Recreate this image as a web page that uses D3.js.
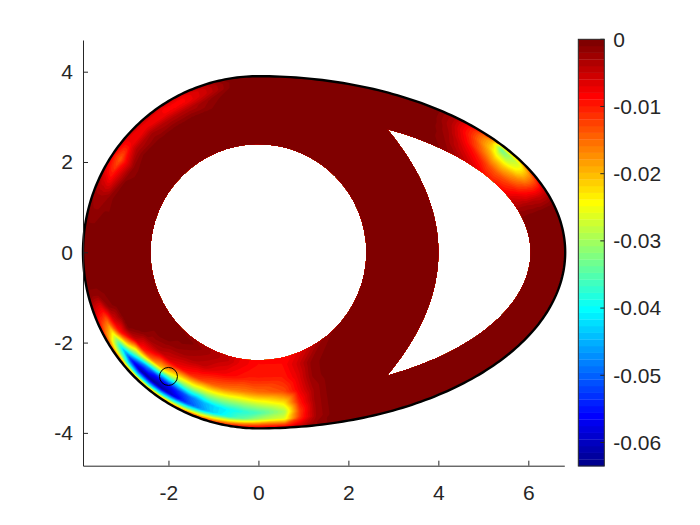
<!DOCTYPE html>
<html>
<head>
<meta charset="utf-8">
<script src="https://cdn.jsdelivr.net/npm/d3@7"></script>
<style>
    body { margin: 0; background: #fff; }
    text { font-family: "Liberation Sans", Arial, Helvetica, sans-serif; fill: #262626; }
</style>
</head>
<body>
<div id="chart"></div>
<script>
/* * * * * * * * * * * * * * * * * * * * * *
*        field on the egg domain           *
* * * * * * * * * * * * * * * * * * * * * */

// tick labels
const xTicks = [-2, 0, 2, 4, 6];
const yTicks = [-4, -2, 0, 2, 4];
const cbTicks = [0, -0.01, -0.02, -0.03, -0.04, -0.05, -0.06];
const cLimits = [-0.0635, 0];

// field: angle round the outer wall (deg) x depth in from the wall
const depths = [0, 0.08, 0.2, 0.35, 0.55, 0.8, 1.1, 1.4];
const sampleAngles = [
    15, 20, 24, 28, 31, 34, 37, 40, 45, 50, 55,
    100, 108, 116, 124, 132, 140, 146, 152, 160, 170, 180,
    190, 195, 200, 205, 210, 215, 220, 225, 230, 235, 240, 245, 250, 255, 260, 265, 270,
    275, 278, 281, 285
];
const sampleValues = [
    // upper right, next to the slot
    [0, 0, 0, 0, 0, 0, 0, 0],
    [-0.004, -0.005, -0.005, -0.004, -0.003, -0.002, 0, 0],
    [-0.008, -0.012, -0.012, -0.010, -0.007, -0.004, 0, 0],
    [-0.014, -0.020, -0.020, -0.016, -0.011, -0.007, 0, 0],
    [-0.018, -0.027, -0.025, -0.019, -0.013, -0.008, 0, 0],
    [-0.020, -0.030, -0.028, -0.021, -0.014, -0.009, 0, 0],
    [-0.020, -0.034, -0.027, -0.020, -0.013, -0.008, 0, 0],
    [-0.014, -0.020, -0.020, -0.016, -0.010, -0.006, 0, 0],
    [-0.008, -0.011, -0.011, -0.009, -0.006, -0.003, 0, 0],
    [-0.003, -0.004, -0.004, -0.003, -0.002, -0.001, 0, 0],
    [0, 0, 0, 0, 0, 0, 0, 0],
    // upper left, thin streak along the wall
    [0, -0.001, -0.001, 0, 0, 0, 0, 0],
    [-0.003, -0.005, -0.005, -0.002, -0.001, 0, 0, 0],
    [-0.005, -0.008, -0.008, -0.004, -0.001, 0, 0, 0],
    [-0.005, -0.008, -0.008, -0.004, -0.001, 0, 0, 0],
    [-0.004, -0.007, -0.007, -0.003, -0.001, 0, 0, 0],
    [-0.005, -0.008, -0.008, -0.004, -0.001, 0, 0, 0],
    [-0.007, -0.011, -0.014, -0.008, -0.002, 0, 0, 0],
    [-0.005, -0.008, -0.010, -0.006, -0.001, 0, 0, 0],
    [-0.002, -0.003, -0.003, -0.002, 0, 0, 0, 0],
    [0, -0.001, -0.001, 0, 0, 0, 0, 0],
    [0, 0, 0, 0, 0, 0, 0, 0],
    // lower left, the deep one
    [0, 0, 0, 0, 0, 0, 0, 0],
    [-0.001, -0.002, -0.002, -0.001, 0, 0, 0, 0],
    [-0.004, -0.007, -0.008, -0.002, 0, 0, 0, 0],
    [-0.007, -0.013, -0.016, -0.006, -0.001, 0, 0, 0],
    [-0.010, -0.020, -0.027, -0.010, -0.001, 0, 0, 0],
    [-0.012, -0.028, -0.042, -0.022, -0.005, -0.001, 0, 0],
    [-0.013, -0.036, -0.055, -0.036, -0.010, -0.003, 0, 0],
    [-0.014, -0.040, -0.062, -0.048, -0.015, -0.004, -0.001, 0],
    [-0.014, -0.040, -0.063, -0.054, -0.021, -0.006, -0.002, 0],
    [-0.013, -0.038, -0.062, -0.055, -0.027, -0.008, -0.003, -0.001],
    [-0.012, -0.034, -0.058, -0.053, -0.030, -0.010, -0.004, -0.002],
    [-0.011, -0.030, -0.052, -0.049, -0.030, -0.012, -0.005, -0.003],
    [-0.010, -0.026, -0.047, -0.045, -0.030, -0.014, -0.007, -0.004],
    [-0.009, -0.022, -0.042, -0.042, -0.030, -0.015, -0.008, -0.005],
    [-0.008, -0.019, -0.038, -0.040, -0.030, -0.016, -0.009, -0.007],
    [-0.007, -0.016, -0.034, -0.038, -0.029, -0.016, -0.010, -0.008],
    [-0.006, -0.014, -0.030, -0.036, -0.027, -0.015, -0.010, -0.009],
    // bottom, fading out to the right
    [-0.006, -0.013, -0.026, -0.030, -0.023, -0.013, -0.010, -0.009],
    [-0.004, -0.007, -0.011, -0.012, -0.010, -0.008, -0.007, -0.006],
    [-0.002, -0.002, -0.003, -0.003, -0.003, -0.003, -0.002, -0.002],
    [0, 0, 0, 0, 0, 0, 0, 0]
];

// extra zero points in the wide part between the hole and the slot
const zeroPoints = [[2.6, 0], [3.0, 1.3], [3.0, -1.3], [2.5, 2.3], [2.5, -2.3]];

// the little circle marker
const probe = [-2.0, -2.75];

class FieldChart {

    constructor(parentElement) {
        this.parentElement = parentElement;

        // geometry of the domain
        this.wallR = 3.9;      // left half is a circle
        this.wallA = 6.82;     // right half is half an ellipse
        this.holeR = 2.4;
        this.slotA = 6.05;
        this.slotB = 3.1;
        this.slotC = 4.0;      // inner edge of the slot: x = c - k*y^2
        this.slotK = 0.153;

        this.initVis();
    }

    initVis() {
        let vis = this;

        vis.width = 700;
        vis.height = 525;

        vis.svg = d3.select("#" + vis.parentElement).append("svg")
            .attr("width", vis.width)
            .attr("height", vis.height);

        // axis equal, limits
        vis.x = d3.scaleLinear().domain([-3.9, 6.8]).range([83, 564.3]);
        vis.y = d3.scaleLinear().domain([-4.727, 4.702]).range([465.7, 40]);
        vis.c = d3.scaleLinear().domain(cLimits).range([466, 39.3]);

        vis.colors = vis.jet64();

        vis.wrangleData();
    }

    // matlab jet(64)
    jet64() {
        let n = 64, m = 16;
        let u = d3.range(1, 17).map(i => i / 16)
            .concat(d3.range(15).map(() => 1))
            .concat(d3.range(16, 0, -1).map(i => i / 16));
        let r = new Array(n).fill(0), g = new Array(n).fill(0), b = new Array(n).fill(0);
        u.forEach((val, j) => {
            let gi = 8 + j + 1;
            let ri = gi + m, bi = gi - m;
            if (ri >= 1 && ri <= n) r[ri - 1] = val;
            if (gi >= 1 && gi <= n) g[gi - 1] = val;
            if (bi >= 1 && bi <= n) b[bi - 1] = val;
        });
        return d3.range(n).map(i => d3.rgb(r[i] * 255, g[i] * 255, b[i] * 255).formatHex());
    }

    // point on the outer wall at angle tDeg, moved d inwards along the normal
    wallPoint(tDeg, d) {
        let vis = this;
        let t = tDeg * Math.PI / 180, co = Math.cos(t), si = Math.sin(t);
        let a = co >= 0 ? vis.wallA : vis.wallR;
        let nx = vis.wallR * co, ny = a * si;
        let len = Math.hypot(nx, ny);
        return [a * co - d * nx / len, vis.wallR * si - d * ny / len];
    }

    slotOuterX(y) {
        let vis = this;
        return vis.slotA * Math.sqrt(Math.max(0, 1 - (y / vis.slotB) ** 2));
    }

    slotInnerX(y) {
        return this.slotC - this.slotK * y * y;
    }

    wrangleData() {
        let vis = this;

        // sample points with values
        vis.points = [];
        sampleAngles.forEach((t, i) => {
            depths.forEach((d, j) => {
                let p = vis.wallPoint(t, d);
                vis.points.push([p[0], p[1], sampleValues[i][j]]);
            });
        });
        // zero rows all the way round where nothing was read
        d3.range(0, 360, 10).forEach(t => {
            let near = sampleAngles.some(s => Math.abs(s - t) < 6);
            if (near) return;
            depths.forEach(d => {
                let p = vis.wallPoint(t, d);
                vis.points.push([p[0], p[1], 0]);
            });
        });
        zeroPoints.forEach(p => vis.points.push([p[0], p[1], 0]));

        // linear interpolation on a triangulation, like the fem mesh
        vis.h = 0.04;
        vis.x0 = -4.0;
        vis.y0 = -4.0;
        vis.nx = Math.round(11.0 / vis.h) + 1;
        vis.ny = Math.round(8.0 / vis.h) + 1;
        let grid = new Float64Array(vis.nx * vis.ny);

        let del = d3.Delaunay.from(vis.points, p => p[0], p => p[1]);
        let tri = del.triangles;
        for (let k = 0; k < tri.length; k += 3) {
            let A = vis.points[tri[k]], B = vis.points[tri[k + 1]], C = vis.points[tri[k + 2]];
            let det = (B[1] - C[1]) * (A[0] - C[0]) + (C[0] - B[0]) * (A[1] - C[1]);
            if (Math.abs(det) < 1e-12) continue;
            let i0 = Math.max(0, Math.ceil((Math.min(A[0], B[0], C[0]) - vis.x0) / vis.h));
            let i1 = Math.min(vis.nx - 1, Math.floor((Math.max(A[0], B[0], C[0]) - vis.x0) / vis.h));
            let j0 = Math.max(0, Math.ceil((Math.min(A[1], B[1], C[1]) - vis.y0) / vis.h));
            let j1 = Math.min(vis.ny - 1, Math.floor((Math.max(A[1], B[1], C[1]) - vis.y0) / vis.h));
            for (let j = j0; j <= j1; j++) {
                let py = vis.y0 + j * vis.h;
                for (let i = i0; i <= i1; i++) {
                    let px = vis.x0 + i * vis.h;
                    let l1 = ((B[1] - C[1]) * (px - C[0]) + (C[0] - B[0]) * (py - C[1])) / det;
                    let l2 = ((C[1] - A[1]) * (px - C[0]) + (A[0] - C[0]) * (py - C[1])) / det;
                    let l3 = 1 - l1 - l2;
                    if (l1 >= -1e-9 && l2 >= -1e-9 && l3 >= -1e-9) {
                        grid[j * vis.nx + i] = l1 * A[2] + l2 * B[2] + l3 * C[2];
                    }
                }
            }
        }
        vis.grid = grid;

        // 64 colour bands
        let step = (cLimits[1] - cLimits[0]) / 64;
        vis.thresholds = d3.range(64).map(k => cLimits[0] + k * step);
        vis.bands = d3.contours()
            .size([vis.nx, vis.ny])
            .thresholds(vis.thresholds)(Array.from(grid));

        vis.updateVis();
    }

    domainPath() {
        let vis = this;
        let p = d3.path();

        // outer wall
        d3.range(0, 360, 1).forEach((t, i) => {
            let q = vis.wallPoint(t, 0);
            if (i === 0) p.moveTo(vis.x(q[0]), vis.y(q[1]));
            else p.lineTo(vis.x(q[0]), vis.y(q[1]));
        });
        p.closePath();

        // round hole
        let rx = vis.x(vis.holeR) - vis.x(0);
        p.moveTo(vis.x(vis.holeR), vis.y(0));
        p.arc(vis.x(0), vis.y(0), rx, 0, 2 * Math.PI);
        p.closePath();

        // slot: find where the two edges meet
        let lo = 0, hi = vis.slotB;
        for (let it = 0; it < 60; it++) {
            let mid = (lo + hi) / 2;
            if (vis.slotOuterX(mid) > vis.slotInnerX(mid)) lo = mid; else hi = mid;
        }
        let yt = lo;
        let ys = d3.range(0, 101).map(i => yt - 2 * yt * i / 100);
        ys.forEach((yy, i) => {
            let xx = vis.slotInnerX(yy);
            if (i === 0) p.moveTo(vis.x(xx), vis.y(yy));
            else p.lineTo(vis.x(xx), vis.y(yy));
        });
        ys.slice().reverse().forEach(yy => p.lineTo(vis.x(vis.slotOuterX(yy)), vis.y(yy)));
        p.closePath();

        return p.toString();
    }

    wallOnly() {
        let vis = this;
        let line = d3.line().x(d => vis.x(d[0])).y(d => vis.y(d[1])).curve(d3.curveLinearClosed);
        return line(d3.range(0, 360, 1).map(t => vis.wallPoint(t, 0)));
    }

    updateVis() {
        let vis = this;

        vis.svg.append("defs").append("clipPath")
            .attr("id", "domainClip")
            .append("path")
            .attr("d", vis.domainPath())
            .attr("clip-rule", "evenodd");

        // grid coords -> pixels
        let proj = d3.geoTransform({
            point: function(gx, gy) {
                this.stream.point(
                    vis.x(vis.x0 + (gx - 0.5) * vis.h),
                    vis.y(vis.y0 + (gy - 0.5) * vis.h));
            }
        });
        let geo = d3.geoPath(proj);

        vis.svg.append("g")
            .attr("clip-path", "url(#domainClip)")
            .selectAll("path")
            .data(vis.bands)
            .enter()
            .append("path")
            .attr("d", geo)
            .attr("fill", (d, i) => vis.colors[i]);

        // outer wall line
        vis.svg.append("path")
            .attr("d", vis.wallOnly())
            .attr("fill", "none")
            .attr("stroke", "#000")
            .attr("stroke-width", 2.4);

        // marker
        vis.svg.append("circle")
            .attr("cx", vis.x(probe[0]))
            .attr("cy", vis.y(probe[1]))
            .attr("r", 9)
            .attr("fill", "none")
            .attr("stroke", "#000")
            .attr("stroke-width", 1);

        // axes
        let xAxis = d3.axisBottom(vis.x).tickValues(xTicks).tickSize(-5).tickSizeOuter(0).tickPadding(19)
            .tickFormat(d3.format("d"));
        let yAxis = d3.axisLeft(vis.y).tickValues(yTicks).tickSize(-5).tickSizeOuter(0).tickPadding(10)
            .tickFormat(d3.format("d"));

        let gx = vis.svg.append("g")
            .attr("transform", "translate(0," + vis.y.range()[0] + ")")
            .call(xAxis);
        let gy = vis.svg.append("g")
            .attr("transform", "translate(" + vis.x.range()[0] + ",0)")
            .call(yAxis);

        [gx, gy].forEach(g => {
            g.selectAll(".domain").attr("stroke", "#262626");
            g.selectAll(".tick line").attr("stroke", "#262626");
            g.selectAll("text").attr("font-size", "21px").attr("fill", "#262626")
                .attr("font-family", "'Liberation Sans', Arial, sans-serif");
        });
        gx.selectAll("text").text(d => d < 0 ? "-" + Math.abs(d) : d);
        gy.selectAll("text").text(d => d < 0 ? "-" + Math.abs(d) : d);

        // colorbar
        let cb = vis.svg.append("g");
        let cx0 = 578.3, cw = 26;
        let step = (cLimits[1] - cLimits[0]) / 64;
        cb.selectAll("rect.band")
            .data(d3.range(64))
            .enter()
            .append("rect")
            .attr("class", "band")
            .attr("x", cx0)
            .attr("width", cw)
            .attr("y", k => vis.c(cLimits[0] + (k + 1) * step))
            .attr("height", k => vis.c(cLimits[0] + k * step) - vis.c(cLimits[0] + (k + 1) * step) + 0.3)
            .attr("fill", k => vis.colors[k]);

        cb.append("rect")
            .attr("x", cx0)
            .attr("y", vis.c.range()[1])
            .attr("width", cw)
            .attr("height", vis.c.range()[0] - vis.c.range()[1])
            .attr("fill", "none")
            .attr("stroke", "#262626")
            .attr("stroke-width", 1);

        cb.selectAll("line.tick")
            .data(cbTicks)
            .enter()
            .append("line")
            .attr("class", "tick")
            .attr("x1", cx0 + cw)
            .attr("x2", cx0 + cw - 4)
            .attr("y1", d => vis.c(d))
            .attr("y2", d => vis.c(d))
            .attr("stroke", "#262626");

        cb.selectAll("text")
            .data(cbTicks)
            .enter()
            .append("text")
            .attr("x", cx0 + cw + 9)
            .attr("y", d => vis.c(d))
            .attr("dy", "0.35em")
            .attr("font-size", "21px")
            .text(d => d === 0 ? "0" : "-" + Math.abs(d).toFixed(2));
    }
}

let fieldChart = new FieldChart("chart");
</script>
</body>
</html>
